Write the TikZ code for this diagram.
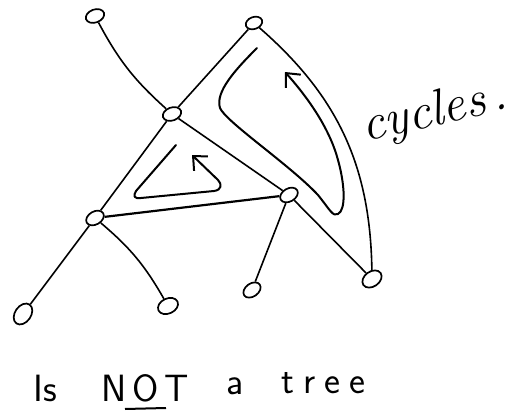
\documentclass[tikz,border=0pt]{standalone}
\usepackage{fontspec}
\usetikzlibrary{shapes.geometric,arrows.meta}
\begin{document}
\begin{tikzpicture}[x=1pt,y=-1pt,
  vtx/.style={draw,ellipse,line width=1.7pt,minimum width=19pt,minimum height=13pt,inner sep=0pt},
  edge/.style={line width=1.6pt},
  cyc/.style={line width=2pt,line cap=round,line join=round,-{Straight Barb[length=11pt,width=20pt]}},
  hand/.style={font=\sffamily\fontsize{38}{40}\selectfont,inner sep=0pt,anchor=base west}]
\useasboundingbox (0,0) rectangle (514,415);
% vertices
\node[vtx,rotate=20] (A) at (95,16) {};
\node[vtx,rotate=20,minimum width=17pt,minimum height=12pt] (B) at (254,23) {};
\node[vtx,rotate=20] (C) at (172,114) {};
\node[vtx,rotate=30] (D) at (289,195) {};
\node[vtx,rotate=30] (E) at (95,218) {};
\node[vtx,rotate=55,minimum width=23pt,minimum height=16pt] (F) at (23,314) {};
\node[vtx,rotate=25,minimum width=21pt,minimum height=15pt] (G) at (168,306) {};
\node[vtx,rotate=35] (H) at (252,290) {};
\node[vtx,rotate=35,minimum width=21pt,minimum height=15pt] (I) at (372,279) {};
% edges
\draw[edge] (A) to[bend right=10] (C);
\draw[edge] (B) -- (C);
\draw[edge] (C) -- (E);
\draw[edge] (C) -- (D);
\draw[edge,line width=2.2pt] (E) -- (D);
\draw[edge] (E) -- (F);
\draw[edge] (E) to[bend left=10] (G);
\draw[edge] (D) -- (H);
\draw[edge] (D) -- (I);
\draw[edge] (B) to[bend left=24] (I);
% cycle annotations
\draw[cyc] (176,145) -- (136,191) .. controls (133,196) and (134,199) .. (141,198)
  -- (214,191) .. controls (222,190) and (222,184) .. (218,180) -- (192,155);
\draw[cyc] (257,48) .. controls (235,70) and (215,92) .. (220,108)
  .. controls (226,122) and (290,165) .. (318,195)
  .. controls (330,210) and (333,217) .. (338,214)
  .. controls (346,210) and (345,185) .. (338,160)
  .. controls (330,130) and (310,100) .. (285,72);
% labels
\node[font=\itshape\fontsize{51}{53}\selectfont,anchor=base west,rotate=13,inner sep=0pt] (cycles) at (365,142) {cycles\hspace{7pt}.};
\node[hand] (is) at (33,401) {Is};
\node[hand] (not) at (101,401) {N\hspace{6pt}O\hspace{6pt}T};
\node[hand] (a) at (226,394) {a};
\node[hand] (tree) at (281,393) {t\hspace{9pt}r\hspace{9pt}e\hspace{9pt}e};
\draw[edge,line width=2pt] (125,409) -- (166,408);
\end{tikzpicture}
\end{document}
